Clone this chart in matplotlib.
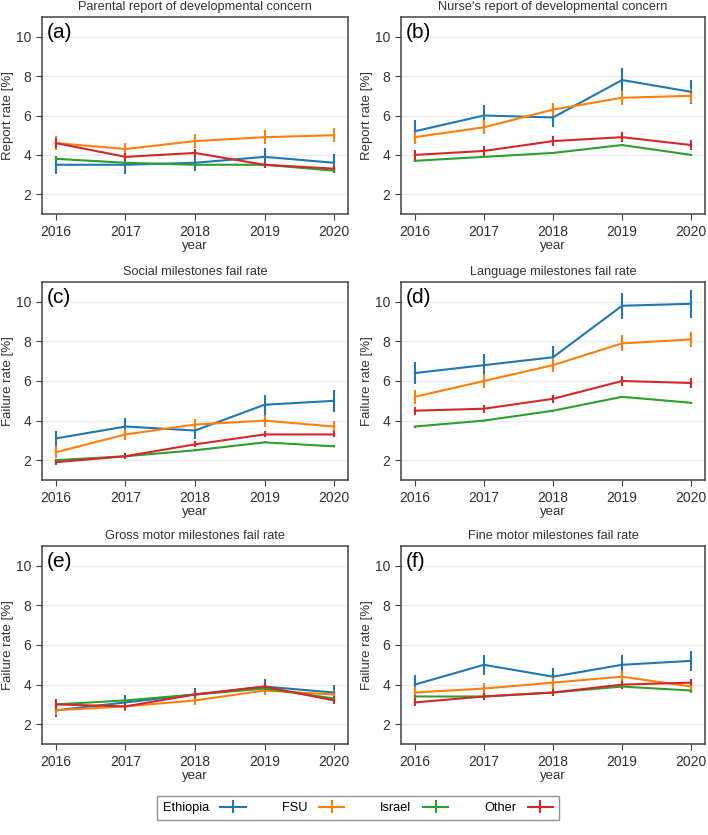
import matplotlib
matplotlib.use("Agg")
import matplotlib.pyplot as plt

plt.rcParams['font.family'] = ['Liberation Sans', 'DejaVu Sans']

years = [2016, 2017, 2018, 2019, 2020]
groups = ['Ethiopia', 'FSU', 'Israel', 'Other']
colors = ['#1f77b4', '#ff7f0e', '#2ca02c', '#d62728']

titles = ['Parental report of developmental concern',
          "Nurse's report of developmental concern",
          'Social milestones fail rate',
          'Language milestones fail rate',
          'Gross motor milestones fail rate',
          'Fine motor milestones fail rate']
panel_tags = ['(a)', '(b)', '(c)', '(d)', '(e)', '(f)']
ylabels = ['Report rate [%]', 'Report rate [%]',
           'Failure rate [%]', 'Failure rate [%]',
           'Failure rate [%]', 'Failure rate [%]']

# rates per panel: Ethiopia, FSU, Israel, Other
parental = [[3.5, 3.5, 3.6, 3.9, 3.6],
            [4.6, 4.3, 4.7, 4.9, 5.0],
            [3.8, 3.6, 3.5, 3.5, 3.2],
            [4.6, 3.9, 4.1, 3.5, 3.3]]
parental_err = [[0.45, 0.45, 0.4, 0.45, 0.45],
                [0.35, 0.3, 0.35, 0.35, 0.35],
                [0.1, 0.1, 0.1, 0.1, 0.1],
                [0.25, 0.2, 0.2, 0.15, 0.15]]

nurse = [[5.2, 6.0, 5.9, 7.8, 7.2],
         [4.9, 5.4, 6.3, 6.9, 7.0],
         [3.7, 3.9, 4.1, 4.5, 4.0],
         [4.0, 4.2, 4.7, 4.9, 4.5]]
nurse_err = [[0.55, 0.55, 0.5, 0.6, 0.6],
             [0.35, 0.35, 0.35, 0.35, 0.35],
             [0.05, 0.05, 0.05, 0.05, 0.05],
             [0.25, 0.25, 0.25, 0.25, 0.25]]

social = [[3.1, 3.7, 3.5, 4.8, 5.0],
          [2.4, 3.3, 3.8, 4.0, 3.7],
          [2.0, 2.2, 2.5, 2.9, 2.7],
          [1.9, 2.2, 2.8, 3.3, 3.3]]
social_err = [[0.4, 0.45, 0.45, 0.5, 0.55],
              [0.3, 0.3, 0.3, 0.3, 0.3],
              [0.05, 0.05, 0.05, 0.05, 0.05],
              [0.15, 0.15, 0.15, 0.15, 0.15]]

language = [[6.4, 6.8, 7.2, 9.8, 9.9],
            [5.2, 6.0, 6.8, 7.9, 8.1],
            [3.7, 4.0, 4.5, 5.2, 4.9],
            [4.5, 4.6, 5.1, 6.0, 5.9]]
language_err = [[0.55, 0.55, 0.55, 0.65, 0.7],
                [0.35, 0.35, 0.35, 0.4, 0.4],
                [0.05, 0.05, 0.05, 0.05, 0.05],
                [0.2, 0.2, 0.2, 0.25, 0.25]]

gross = [[2.7, 3.1, 3.5, 3.9, 3.6],
         [2.7, 2.9, 3.2, 3.7, 3.5],
         [3.0, 3.2, 3.5, 3.8, 3.3],
         [3.0, 2.9, 3.5, 3.9, 3.2]]
gross_err = [[0.35, 0.35, 0.35, 0.4, 0.4],
             [0.25, 0.25, 0.25, 0.25, 0.25],
             [0.05, 0.05, 0.05, 0.05, 0.05],
             [0.25, 0.2, 0.2, 0.25, 0.2]]

fine = [[4.0, 5.0, 4.4, 5.0, 5.2],
        [3.6, 3.8, 4.1, 4.4, 3.9],
        [3.4, 3.4, 3.6, 3.9, 3.7],
        [3.1, 3.4, 3.6, 4.0, 4.1]]
fine_err = [[0.5, 0.5, 0.45, 0.5, 0.5],
            [0.3, 0.3, 0.3, 0.3, 0.3],
            [0.05, 0.05, 0.05, 0.05, 0.05],
            [0.2, 0.2, 0.2, 0.2, 0.2]]

panels = [(parental, parental_err), (nurse, nurse_err), (social, social_err),
          (language, language_err), (gross, gross_err), (fine, fine_err)]

W, H = 708, 835
fig = plt.figure(figsize=(W / 100, H / 100), dpi=100)

col_x = [(42, 348), (401, 705)]
row_y = [(17, 214), (282, 480), (546, 744)]

frame_col = '#444444'
text_col = '#333333'

handles = []
for i, (vals, errs) in enumerate(panels):
    r, c = divmod(i, 2)
    x0, x1 = col_x[c]
    y0, y1 = row_y[r]
    ax = fig.add_axes([x0 / W, 1 - y1 / H, (x1 - x0) / W, (y1 - y0) / H])
    for g in range(4):
        h = ax.errorbar(years, vals[g], yerr=errs[g], color=colors[g],
                        lw=1.5, elinewidth=1.5, capsize=0, label=groups[g])
        if i == 0:
            handles.append(h)
    ax.set_xlim(2015.8, 2020.2)
    ax.set_ylim(1, 11)
    ax.set_xticks(years)
    ax.set_yticks([2, 4, 6, 8, 10])
    ax.yaxis.grid(True, color='#ebebeb', lw=0.9)
    ax.set_axisbelow(True)
    for s in ax.spines.values():
        s.set_color(frame_col)
        s.set_linewidth(1.1)
    ax.tick_params(colors=frame_col, labelcolor=text_col, labelsize=10,
                   length=4, width=0.8, pad=4)
    ax.set_xlabel('year', fontsize=9.5, color=text_col, labelpad=1)
    ax.set_ylabel(ylabels[i], fontsize=9.5, color=text_col)
    ax.yaxis.set_label_coords(-0.092, 0.5)
    ax.set_title(titles[i], fontsize=9.2, color=text_col, pad=5)
    ax.text(0.015, 0.97, panel_tags[i], transform=ax.transAxes,
            fontsize=15, va='top', ha='left', color='black')

leg = fig.legend(handles, groups, loc='center', ncol=4,
                 bbox_to_anchor=(358 / W, 1 - 808 / H), markerfirst=False,
                 frameon=True, fancybox=False, fontsize=9.2,
                 columnspacing=2.8, handlelength=2.0, handletextpad=0.9,
                 borderpad=0.45)
leg.get_frame().set_edgecolor('#777777')
leg.get_frame().set_linewidth(1.0)

fig.savefig('out.png', dpi=100)
